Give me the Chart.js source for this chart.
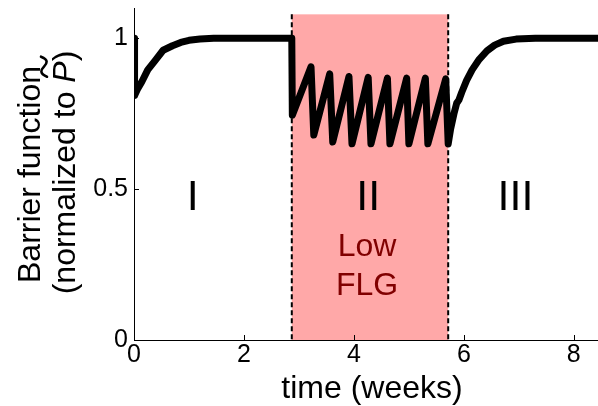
<!DOCTYPE html>
<html><head><meta charset="utf-8">
<script src="https://cdn.jsdelivr.net/npm/chart.js@4"></script>
<style>html,body{margin:0;padding:0;background:#fff;}canvas{display:block;}</style>
</head><body>
<canvas id="c" width="598" height="406"></canvas>
<script>
// ---- data ----
const timeWeeks = [0, 0.01, 0.06, 0.14, 0.25, 0.38, 0.53, 0.7, 0.85, 1.0, 1.2, 1.45, 2.87,
  2.88, 3.22, 3.27, 3.56, 3.615, 3.91, 3.965, 4.26, 4.31, 4.61, 4.655, 4.96, 5.0, 5.30, 5.345, 5.67, 5.715,
  5.76, 5.82, 5.87, 5.91, 5.96, 6.05, 6.15, 6.28, 6.42, 6.56, 6.72, 6.95, 7.3, 8.44];
const barrier = [1.0, 0.81, 0.83, 0.855, 0.895, 0.925, 0.96, 0.975, 0.986, 0.993, 0.997, 1.0, 1.0,
  0.745, 0.905, 0.679, 0.882, 0.656, 0.873, 0.65, 0.87, 0.65, 0.868, 0.65, 0.868, 0.65, 0.868, 0.65, 0.865, 0.65,
  0.70, 0.75, 0.785, 0.795, 0.82, 0.86, 0.895, 0.93, 0.958, 0.977, 0.99, 0.997, 1.0, 1.0];
const xTickValues = [0, 2, 4, 6, 8];
const yTickValues = [0, 0.5, 1];
const yTickLabels = ['0', '0.5', '1'];
const lowFlgStart = 2.87, lowFlgEnd = 5.715, shadeTop = 1.079;
const regionLabels = ['I', 'II', 'III'];
const regionCenters = [1.07, 4.26, 6.94];
const xMin = 0, xMax = 8.44, yMin = 0, yMax = 1.1;

const FONT = '"Liberation Sans", Arial, sans-serif';
const points = timeWeeks.map((t, i) => ({x: t, y: barrier[i]}));

const deco = {
  id: 'deco',
  beforeDatasetsDraw(chart) {
    const {ctx, scales: {x, y}} = chart;
    ctx.save();
    const x0 = x.getPixelForValue(lowFlgStart), x1 = x.getPixelForValue(lowFlgEnd);
    const yt = y.getPixelForValue(shadeTop), yb = y.getPixelForValue(0);
    ctx.fillStyle = '#ffa8a8';
    ctx.fillRect(x0, yt, x1 - x0, yb - yt);
    ctx.strokeStyle = '#000'; ctx.lineWidth = 2; ctx.setLineDash([5, 3]);
    [x0, x1].forEach(px => { ctx.beginPath(); ctx.moveTo(px, yt); ctx.lineTo(px, yb); ctx.stroke(); });
    ctx.setLineDash([]);
    ctx.fillStyle = '#000'; ctx.font = '43px ' + FONT; ctx.textAlign = 'center'; ctx.textBaseline = 'alphabetic';
    regionLabels.forEach((t, i) => ctx.fillText(t, x.getPixelForValue(regionCenters[i]), y.getPixelForValue(0.43)));
    ctx.fillStyle = '#800000'; ctx.font = '32px ' + FONT;
    const cx = x.getPixelForValue(4.24);
    ctx.fillText('Low', cx, y.getPixelForValue(0.278));
    ctx.fillText('FLG', cx, y.getPixelForValue(0.149));
    ctx.restore();
  },
  afterDraw(chart) {
    const {ctx, chartArea: a, scales: {x, y}} = chart;
    ctx.save();
    ctx.strokeStyle = '#000'; ctx.lineWidth = 1;
    xTickValues.forEach(v => { if (v === 0) return; const px = Math.round(x.getPixelForValue(v)) + 0.5;
      ctx.beginPath(); ctx.moveTo(px, a.bottom); ctx.lineTo(px, a.bottom - 5); ctx.stroke(); });
    yTickValues.forEach(v => { if (v === 0) return; const py = Math.round(y.getPixelForValue(v)) + 0.5;
      ctx.beginPath(); ctx.moveTo(a.left, py); ctx.lineTo(a.left + 5, py); ctx.stroke(); });
    // x title
    ctx.fillStyle = '#000'; ctx.font = '32px ' + FONT; ctx.textAlign = 'center'; ctx.textBaseline = 'alphabetic';
    ctx.fillText('time (weeks)', 372, 398);
    // y title line 1
    ctx.save();
    ctx.translate(40, 174.5); ctx.rotate(-Math.PI / 2);
    ctx.fillText('Barrier function', 0, 0);
    ctx.restore();
    // y title line 2 with italic P and tilde accent
    ctx.save();
    ctx.translate(75, 172.5); ctx.rotate(-Math.PI / 2);
    const fN = '32px ' + FONT, fI = 'italic 32px ' + FONT;
    ctx.font = fN; const w1 = ctx.measureText('(normalized to ').width; const w3 = ctx.measureText(')').width;
    ctx.font = fI; const w2 = ctx.measureText('P').width;
    const sx = -(w1 + w2 + w3) / 2;
    ctx.textAlign = 'left';
    ctx.font = fN; ctx.fillText('(normalized to ', sx, 0);
    ctx.font = fI; ctx.fillText('P', sx + w1, 0);
    ctx.font = fN; ctx.fillText(')', sx + w1 + w2, 0);
    const pc = sx + w1 + w2 * 0.75;
    ctx.strokeStyle = '#000'; ctx.lineWidth = 2.6; ctx.lineCap = 'round';
    ctx.beginPath();
    ctx.moveTo(pc - 10, -28);
    ctx.bezierCurveTo(pc - 7, -36, pc - 3, -34, pc, -31);
    ctx.bezierCurveTo(pc + 3, -28, pc + 7, -26, pc + 10, -34);
    ctx.stroke();
    ctx.restore();
    ctx.restore();
  }
};

new Chart(document.getElementById('c'), {
  type: 'line',
  data: { datasets: [{ data: points, borderColor: '#000', borderWidth: 7, pointRadius: 0,
    tension: 0, borderJoinStyle: 'round', borderCapStyle: 'round', fill: false }] },
  options: {
    responsive: false, animation: false,
    layout: { padding: { top: 8, right: 0, left: 0, bottom: 0 } },
    plugins: { legend: { display: false }, tooltip: { enabled: false } },
    scales: {
      x: { type: 'linear', min: xMin, max: xMax,
        afterFit: s => { s.height = 66; s.paddingLeft = 0; s.paddingRight = 0; },
        afterBuildTicks: s => { s.ticks = xTickValues.map(v => ({value: v})); },
        grid: { display: false, drawTicks: false },
        border: { display: true, color: '#000', width: 1 },
        ticks: { color: '#000', font: { family: FONT, size: 25 }, padding: 0, maxRotation: 0,
          callback: v => String(v) } },
      y: { type: 'linear', min: yMin, max: yMax,
        afterFit: s => { s.width = 134; s.paddingTop = 0; s.paddingBottom = 0; },
        afterBuildTicks: s => { s.ticks = yTickValues.map(v => ({value: v})); },
        grid: { display: false, drawTicks: false },
        border: { display: true, color: '#000', width: 1 },
        ticks: { color: '#000', font: { family: FONT, size: 25 }, padding: 6,
          callback: v => yTickLabels[yTickValues.indexOf(v)] } }
    }
  },
  plugins: [deco]
});
</script>
</body></html>
